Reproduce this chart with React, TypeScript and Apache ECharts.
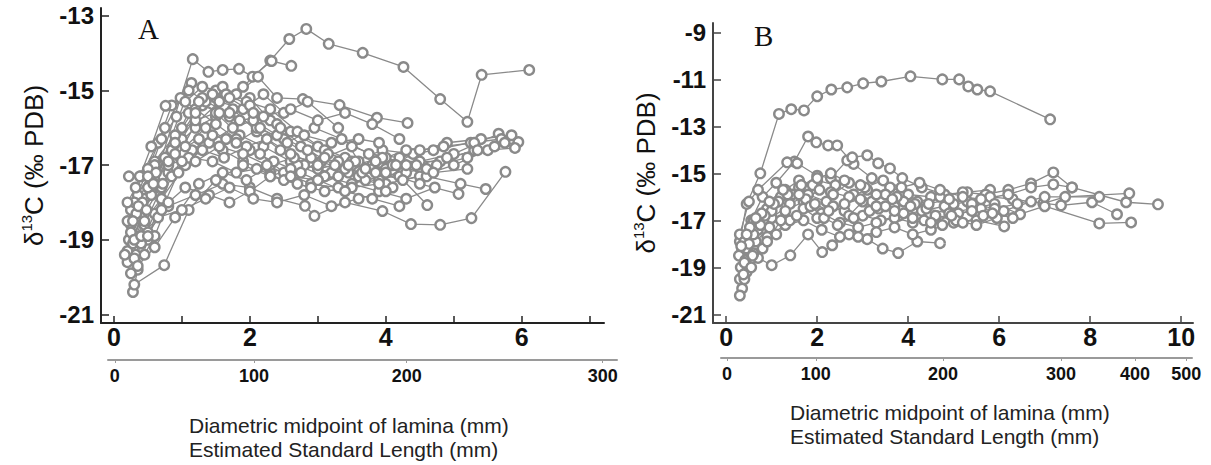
import React, { useEffect, useRef } from "react";
import * as echarts from "echarts";

type P = [number, number][];

// ---------- Panel A : diametric midpoint (mm) vs d13C ----------
const a1: P = [[0.25,-18.6],[0.45,-17.9],[1.1,-15.6],[1.5,-15.2],[1.9,-14.9],[2.3,-14.2],[2.58,-13.62],[2.83,-13.35],[3.16,-13.75],[3.66,-13.99],[4.26,-14.37],[4.8,-15.23],[5.2,-15.84],[5.41,-14.58],[6.11,-14.45]];
const a2: P = [[0.22,-19.0],[0.35,-18.3],[0.6,-17.4],[1.16,-14.16],[1.39,-14.5],[1.6,-14.45],[1.84,-14.42],[2.04,-14.63],[2.32,-14.21],[2.61,-14.34]];
const a3: P = [[0.2,-19.6],[0.3,-18.9],[0.55,-17.7],[1.14,-14.8],[1.5,-15.0],[1.8,-15.1],[2.12,-14.63],[2.4,-15.2],[2.78,-15.23],[3.32,-15.39],[3.87,-15.73],[4.32,-15.87]];
const a4: P = [[0.28,-20.4],[0.35,-19.8],[0.5,-19.0],[0.8,-17.2],[1.2,-15.9],[1.55,-15.3],[1.9,-15.5],[2.2,-15.1],[2.5,-15.6],[2.85,-15.3],[3.3,-16.0],[3.6,-16.9],[4.0,-17.1],[4.5,-16.9],[5.0,-16.7],[5.66,-16.16]];
const a5: P = [[0.25,-19.9],[0.32,-19.4],[0.45,-18.6],[0.7,-17.6],[1.0,-16.3],[1.3,-15.4],[1.7,-15.7],[2.0,-15.2],[2.3,-15.8],[2.6,-16.1],[3.0,-16.5],[3.4,-16.8],[3.8,-17.0],[4.2,-16.9],[4.8,-16.9],[5.3,-16.6],[5.95,-16.38]];
const a6: P = [[0.2,-19.3],[0.4,-18.4],[0.6,-17.5],[0.85,-16.6],[1.2,-16.0],[1.5,-15.7],[1.75,-15.5],[2.1,-16.1],[2.45,-16.6],[2.8,-17.0],[3.2,-17.2],[3.6,-17.3],[4.0,-17.5],[4.5,-17.3],[5.0,-17.0],[5.5,-16.6],[5.9,-16.54]];
const a7: P = [[0.3,-19.5],[0.5,-18.8],[0.8,-18.1],[1.2,-17.8],[1.6,-17.5],[2.0,-17.6],[2.4,-17.9],[2.81,-18.09],[2.95,-18.36],[3.4,-18.0],[3.95,-18.23],[4.37,-18.58],[4.8,-18.6],[5.26,-18.42],[5.76,-17.18]];
const a8: P = [[0.25,-18.2],[0.4,-17.3],[0.65,-16.4],[0.85,-15.4],[1.1,-15.0],[1.35,-15.3],[1.7,-15.6],[2.1,-16.0],[2.5,-16.3],[2.9,-16.8],[3.3,-16.9],[3.8,-17.1],[4.2,-17.3],[4.61,-18.07]];
const a9: P = [[0.22,-17.3],[0.38,-17.3],[0.6,-16.9],[0.9,-16.2],[1.2,-15.8],[1.5,-15.6],[1.85,-16.2],[2.2,-16.5],[2.6,-16.9],[3.0,-17.1],[3.5,-16.9],[4.0,-17.2],[4.5,-17.5],[5.07,-17.77]];
const a10: P = [[0.3,-18.9],[0.55,-17.8],[0.75,-16.8],[1.0,-16.0],[1.3,-15.2],[1.6,-14.9],[1.95,-15.3],[2.3,-15.5],[2.7,-16.1],[3.1,-16.6],[3.5,-17.0],[4.0,-16.8],[4.6,-17.3],[5.1,-17.5],[5.47,-17.64]];
const a11: P = [[0.2,-18.5],[0.35,-17.8],[0.6,-17.0],[0.9,-16.7],[1.25,-16.3],[1.6,-16.6],[1.9,-16.9],[2.3,-17.2],[2.7,-17.0],[3.1,-17.3],[3.5,-17.5],[3.9,-17.7],[4.3,-17.9],[4.72,-17.6]];
const a12: P = [[0.28,-19.1],[0.45,-18.5],[0.7,-17.9],[1.05,-17.0],[1.4,-16.4],[1.75,-16.0],[2.05,-15.8],[2.4,-16.2],[2.75,-16.5],[3.15,-16.7],[3.55,-16.9],[3.95,-16.6],[4.4,-16.7],[4.9,-16.4],[5.4,-16.3],[5.85,-16.2]];
const a13: P = [[0.3,-18.0],[0.5,-17.1],[0.75,-16.0],[0.98,-15.2],[1.2,-15.5],[1.5,-15.9],[1.8,-16.3],[2.15,-16.7],[2.5,-17.2],[2.9,-17.5],[3.3,-17.6],[3.7,-17.4],[4.1,-17.6]];
const a14: P = [[0.35,-19.7],[0.6,-19.2],[0.9,-18.4],[1.25,-17.5],[1.6,-17.2],[1.95,-17.4],[2.3,-17.0],[2.65,-16.8],[3.05,-16.9],[3.45,-17.2],[3.9,-17.4],[4.3,-17.2],[4.75,-17.0],[5.2,-16.8],[5.6,-16.5]];
const a15: P = [[0.2,-18.0],[0.32,-17.6],[0.55,-16.5],[0.76,-15.41],[1.05,-15.3],[1.3,-14.9],[1.65,-15.1],[2.0,-15.4],[2.4,-15.9],[2.8,-16.2],[3.2,-16.4],[3.6,-16.3],[3.9,-16.4]];
const a16: P = [[0.3,-20.2],[0.74,-19.68],[1.1,-18.2],[1.5,-17.4],[1.9,-17.0],[2.3,-17.3],[2.7,-17.5],[3.1,-17.7],[3.5,-17.6],[3.9,-17.5],[4.3,-17.0]];
const a17: P = [[0.4,-19.1],[0.6,-18.3],[0.85,-17.3],[1.15,-16.6],[1.45,-16.2],[1.8,-16.4],[2.15,-16.0],[2.55,-16.4],[2.95,-16.0],[3.35,-16.3],[3.75,-16.7],[4.2,-16.8],[4.7,-16.6],[5.25,-16.4],[5.7,-16.3]];
const a18: P = [[0.25,-18.8],[0.42,-18.0],[0.62,-17.2],[0.9,-16.4],[1.2,-15.6],[1.45,-15.1],[1.7,-15.2],[2.05,-15.6],[2.45,-16.0],[2.85,-16.6],[3.25,-17.0],[3.65,-17.2],[4.1,-17.0],[4.5,-16.6],[4.85,-16.5],[5.3,-16.4]];
const a19: P = [[0.33,-18.3],[0.5,-17.6],[0.8,-17.0],[1.1,-16.8],[1.45,-16.9],[1.8,-17.2],[2.1,-17.1],[2.5,-17.4],[2.9,-17.6],[3.3,-17.3],[3.7,-17.1],[4.15,-17.0],[4.6,-17.1]];
const a20: P = [[0.45,-19.4],[0.6,-18.9],[0.8,-18.0],[1.05,-17.6],[1.4,-17.8],[1.7,-18.0],[2.0,-17.7],[2.3,-17.3],[2.6,-17.1],[3.0,-17.4],[3.4,-17.7],[3.8,-17.9],[4.2,-18.1]];
const a21: P = [[0.28,-18.5],[0.5,-17.3],[0.7,-16.3],[0.92,-15.7],[1.25,-15.3],[1.55,-15.6],[1.85,-15.8],[2.2,-15.7],[2.6,-15.5],[3.0,-15.8],[3.4,-15.6],[3.8,-15.9],[4.2,-16.3]];
const a22: P = [[0.36,-18.1],[0.58,-17.5],[0.8,-16.9],[1.05,-16.5],[1.35,-16.0],[1.65,-16.3],[2.0,-16.6],[2.35,-16.9],[2.75,-17.2],[3.1,-16.8],[3.5,-16.5],[3.95,-16.8],[4.45,-17.0],[4.9,-16.8],[5.35,-16.6],[5.75,-16.4]];
const a23: P = [[0.3,-19.0],[0.48,-18.2],[0.72,-17.5],[1.0,-16.9],[1.3,-16.6],[1.62,-16.8],[1.95,-16.5],[2.25,-16.3],[2.6,-16.7],[3.0,-17.0],[3.4,-17.1],[3.85,-16.9],[4.3,-16.6]];
const a24: P = [[0.16,-19.4],[0.4,-18.9],[0.65,-18.4],[1.0,-18.2],[1.35,-17.9],[1.7,-17.6],[2.05,-17.9],[2.4,-18.0],[2.8,-17.8],[3.2,-18.1],[3.6,-17.9],[4.0,-17.7]];
const a25: P = [[0.5,-18.9],[0.7,-18.2],[0.95,-17.2],[1.2,-16.9],[1.55,-16.5],[1.9,-16.7],[2.25,-17.0],[2.6,-17.3],[3.0,-17.4],[3.45,-17.0],[3.85,-17.2],[4.25,-17.4],[4.7,-17.2],[5.2,-17.1]];

// ---------- Panel B ----------
const b1: P = [[0.3,-17.9],[0.45,-16.3],[0.75,-15.0],[1.16,-12.47],[1.43,-12.27],[1.71,-12.32],[2.0,-11.72],[2.31,-11.43],[2.66,-11.34],[3.01,-11.17],[3.41,-11.09],[4.05,-10.87],[4.75,-11.0],[5.12,-11.0],[5.32,-11.3],[5.52,-11.43],[5.8,-11.51],[7.12,-12.7]];
const b2: P = [[0.35,-18.3],[0.55,-17.0],[0.8,-16.0],[1.1,-15.4],[1.5,-14.5],[1.8,-13.43],[1.98,-13.68],[2.24,-13.81],[2.44,-13.81],[2.8,-14.6],[3.2,-15.2],[3.6,-15.6],[4.0,-15.9],[4.5,-16.0],[5.0,-16.3]];
const b3: P = [[0.3,-17.6],[0.5,-16.2],[0.7,-15.7],[1.34,-14.53],[1.56,-14.57],[2.0,-15.1],[2.3,-15.2],[2.66,-14.45],[2.77,-14.32],[3.1,-14.23],[3.34,-14.57],[3.6,-14.79],[3.87,-15.2],[4.3,-15.6],[4.8,-15.9],[5.3,-15.8],[5.8,-15.7]];
const b4: P = [[0.28,-18.5],[0.4,-17.9],[0.6,-17.0],[0.9,-16.5],[1.2,-16.0],[1.6,-15.6],[2.0,-15.3],[2.4,-15.5],[2.8,-15.9],[3.2,-16.2],[3.7,-16.4],[4.2,-16.2],[4.7,-16.0],[5.2,-15.8],[5.7,-15.9],[6.2,-15.7],[6.7,-15.43],[7.19,-14.96],[7.6,-15.6],[8.79,-16.23],[9.49,-16.32]];
const b5: P = [[0.32,-19.0],[0.45,-18.2],[0.7,-17.4],[1.0,-16.9],[1.4,-16.3],[1.8,-15.9],[2.2,-16.2],[2.6,-16.6],[3.0,-16.8],[3.4,-17.0],[3.8,-16.8],[4.3,-16.6],[4.8,-16.4],[5.3,-16.2],[5.8,-16.0],[6.3,-16.1],[6.97,-16.28],[7.45,-16.0],[8.86,-15.85]];
const b6: P = [[0.3,-19.5],[0.42,-18.7],[0.65,-17.9],[0.95,-17.3],[1.3,-16.6],[1.7,-16.2],[2.1,-16.7],[2.5,-17.1],[2.9,-17.3],[3.3,-17.1],[3.7,-16.9],[4.1,-17.1],[4.6,-16.9],[5.1,-16.7],[5.6,-16.5],[6.1,-16.6],[6.7,-16.2],[7.36,-16.36],[8.04,-16.23],[8.59,-16.74]];
const b7: P = [[0.35,-19.9],[0.45,-19.2],[0.7,-18.6],[1.0,-18.91],[1.41,-18.49],[1.8,-17.6],[2.11,-18.35],[2.33,-18.06],[2.7,-17.6],[3.1,-17.8],[3.44,-18.2],[3.78,-18.39],[4.2,-17.9],[4.7,-17.97]];
const b8: P = [[0.3,-20.2],[0.4,-19.5],[0.6,-18.4],[0.9,-17.7],[1.3,-17.2],[1.7,-17.0],[2.1,-17.4],[2.5,-17.7],[2.9,-17.7],[3.3,-17.5],[3.7,-17.3],[4.1,-17.6],[4.5,-17.4],[5.0,-17.1],[5.5,-17.0],[6.11,-17.26]];
const b9: P = [[0.5,-18.0],[0.75,-17.2],[1.0,-16.6],[1.3,-15.7],[1.6,-15.3],[1.9,-15.5],[2.3,-15.8],[2.7,-16.0],[3.1,-15.7],[3.5,-15.9],[3.9,-16.2],[4.4,-16.5],[4.9,-16.7],[5.4,-16.5],[5.9,-16.3],[6.46,-16.74],[7.0,-16.4],[8.2,-17.13],[8.9,-17.09]];
const b10: P = [[0.4,-18.8],[0.6,-17.6],[0.85,-16.8],[1.15,-16.2],[1.45,-15.9],[1.75,-16.1],[2.05,-15.7],[2.35,-15.9],[2.7,-15.4],[3.05,-15.6],[3.45,-15.3],[3.85,-15.6],[4.25,-15.4],[4.7,-15.7],[5.2,-16.0],[5.6,-16.1],[6.2,-15.9],[6.7,-15.6],[7.19,-15.47],[7.6,-15.6]];
const b11: P = [[0.55,-19.0],[0.8,-18.2],[1.1,-17.6],[1.4,-17.0],[1.7,-16.5],[2.0,-16.9],[2.35,-16.4],[2.7,-16.8],[3.0,-16.2],[3.35,-16.5],[3.75,-16.0],[4.15,-16.3],[4.6,-16.8],[5.05,-17.0],[5.5,-17.2],[5.95,-16.9]];
const b12: P = [[0.33,-18.1],[0.52,-17.3],[0.78,-16.7],[1.05,-16.3],[1.35,-15.9],[1.65,-15.5],[2.0,-15.2],[2.3,-15.0],[2.6,-15.3],[2.95,-15.5],[3.3,-15.9],[3.65,-16.1],[4.05,-16.4],[4.45,-16.3],[4.9,-16.1],[5.4,-16.3],[5.9,-16.5],[6.4,-16.3],[7.0,-16.0],[8.2,-16.0]];
const b13: P = [[0.38,-19.3],[0.58,-18.5],[0.9,-17.9],[1.2,-17.0],[1.55,-16.8],[1.85,-16.4],[2.15,-16.9],[2.45,-17.2],[2.8,-16.9],[3.15,-16.6],[3.5,-16.4],[3.9,-16.7],[4.35,-17.0],[4.75,-17.2],[5.2,-17.1],[5.65,-16.8]];
const b14: P = [[0.45,-17.6],[0.65,-16.9],[0.95,-16.2],[1.25,-15.7],[1.6,-15.9],[1.95,-16.3],[2.25,-16.6],[2.6,-16.3],[2.95,-16.1],[3.3,-16.4],[3.7,-16.6],[4.1,-16.9],[4.5,-17.1],[4.95,-16.8],[5.4,-16.6],[5.85,-16.7],[6.3,-16.9]];

const seriesA: P[] = [a1,a2,a3,a4,a5,a6,a7,a8,a9,a10,a11,a12,a13,a14,a15,a16,a17,a18,a19,a20,a21,a22,a23,a24,a25];
const seriesB: P[] = [b1,b2,b3,b4,b5,b6,b7,b8,b9,b10,b11,b12,b13,b14];

// ---------- tick labels ----------
const xTicksA = [0,1,2,3,4,5,6,7];
const xLabelsA = [0,2,4,6];
const xTicksB = [0,2,4,6,8,10];
const yTicksA = [-13,-15,-17,-19,-21];
const yTicksB = [-9,-11,-13,-15,-17,-19,-21];
// estimated standard length (mm) labels and the diametric midpoint they sit at
const slLabelsA = [0,100,200,300];
const slAtDiamA = [0.01,2.054,4.3,7.18];
const slLabelsB = [0,100,200,300,400,500];
const slAtDiamB = [0.01,1.965,4.765,7.358,8.987,10.116];

const xTitle = "Diametric midpoint of lamina (mm)\nEstimated Standard Length (mm)";
const yTitle = "{a|δ}{b|13}{a|C (‰ PDB)}";

const FONT = "'Liberation Sans', Arial, sans-serif";
const GRAY = "#8a8a8a";

function slFormatter(labels: number[], pos: number[]) {
  return (v: number) => {
    let best = 0;
    for (let i = 1; i < pos.length; i++) if (Math.abs(pos[i] - v) < Math.abs(pos[best] - v)) best = i;
    return String(labels[best]);
  };
}

function mainX(grid: number, min: number, max: number, ticks: number[], labels: number[], color: string) {
  return {
    gridIndex: grid, type: "value", min, max,
    axisLine: { show: true, onZero: false, lineStyle: { color, width: 2 } },
    axisTick: { show: true, inside: true, length: 7, customValues: ticks, lineStyle: { color, width: 1.5 } },
    axisLabel: { customValues: labels, fontSize: 25, fontWeight: "bold", color: "#111", margin: 1, fontFamily: FONT },
    splitLine: { show: false },
  };
}
function mainY(grid: number, min: number, max: number, ticks: number[], color: string) {
  return {
    gridIndex: grid, type: "value", min, max,
    axisLine: { show: true, onZero: false, lineStyle: { color, width: 2 } },
    axisTick: { show: true, inside: true, length: 8, customValues: ticks, lineStyle: { color, width: 1.5 } },
    axisLabel: { customValues: ticks, fontSize: 24, fontWeight: "bold", color: "#111", margin: 7, fontFamily: FONT },
    splitLine: { show: false },
    name: yTitle, nameLocation: "middle", nameRotate: 90, nameGap: 52,
    nameTextStyle: {
      fontFamily: FONT, color: "#111",
      rich: {
        a: { fontSize: 26, fontFamily: FONT, color: "#111", lineHeight: 30 },
        b: { fontSize: 15, fontFamily: FONT, color: "#111", verticalAlign: "top", lineHeight: 30 },
      },
    },
  };
}
function slX(grid: number, min: number, max: number, labels: number[], pos: number[]) {
  return {
    gridIndex: grid, type: "value", min, max, position: "bottom",
    axisLine: { show: true, onZero: false, lineStyle: { color: "#9a9a9a", width: 2 } },
    axisTick: { show: true, inside: false, length: 3, customValues: pos, lineStyle: { color: "#9a9a9a", width: 1 } },
    axisLabel: { customValues: pos, fontSize: 18, fontWeight: "bold", color: "#111", margin: 7, fontFamily: FONT, formatter: slFormatter(labels, pos) },
    splitLine: { show: false },
  };
}

function lines(data: P[], axis: number) {
  return data.map((d, i) => ({
    type: "line", xAxisIndex: axis, yAxisIndex: axis, data: d, name: `s${axis}-${i}`,
    symbol: "circle", symbolSize: 9.5, showSymbol: true, silent: true,
    lineStyle: { color: GRAY, width: 1.3 },
    itemStyle: { color: "#ffffff", borderColor: GRAY, borderWidth: 2.4 },
    emphasis: { disabled: true },
  }));
}

const option = {
  animation: false,
  backgroundColor: "#ffffff",
  grid: [
    { left: 101, top: 8, width: 503, height: 315 },
    { left: 108, top: 359, width: 509, height: 1 },
    { left: 713, top: 23, width: 480, height: 300 },
    { left: 721, top: 357, width: 471, height: 1 },
  ],
  xAxis: [
    mainX(0, -0.19, 7.21, xTicksA, xLabelsA, "#222"),
    slX(1, -0.09, 7.39, slLabelsA, slAtDiamA),
    mainX(2, -0.29, 10.26, xTicksB, xTicksB, "#444"),
    slX(3, -0.12, 10.24, slLabelsB, slAtDiamB),
  ],
  yAxis: [
    mainY(0, -21.23, -12.79, yTicksA, "#222"),
    { gridIndex: 1, type: "value", show: false, min: 0, max: 1 },
    mainY(2, -21.37, -8.6, yTicksB, "#444"),
    { gridIndex: 3, type: "value", show: false, min: 0, max: 1 },
  ],
  series: [
    ...lines(seriesA, 0),
    ...lines(seriesB, 2),
  ],
  graphic: [
    { type: "text", left: 138, top: 14, style: { text: "A", font: "29px 'Liberation Serif', 'Times New Roman', serif", fill: "#111" } },
    { type: "text", left: 754, top: 21, style: { text: "B", font: "29px 'Liberation Serif', 'Times New Roman', serif", fill: "#111" } },
    { type: "text", left: 189, top: 414, style: { text: xTitle, font: `21px ${FONT}`, fill: "#222", lineHeight: 23.5 } },
    { type: "text", left: 790, top: 401, style: { text: xTitle, font: `21px ${FONT}`, fill: "#222", lineHeight: 23.5 } },
  ],
};

export default function App() {
  const ref = useRef<HTMLDivElement>(null);
  useEffect(() => {
    const chart = echarts.init(ref.current!, null, { renderer: "svg" });
    chart.setOption(option as any);
    return () => chart.dispose();
  }, []);
  return <div ref={ref} style={{ position: "absolute", left: 0, top: 0, width: 1211, height: 465 }} />;
}
